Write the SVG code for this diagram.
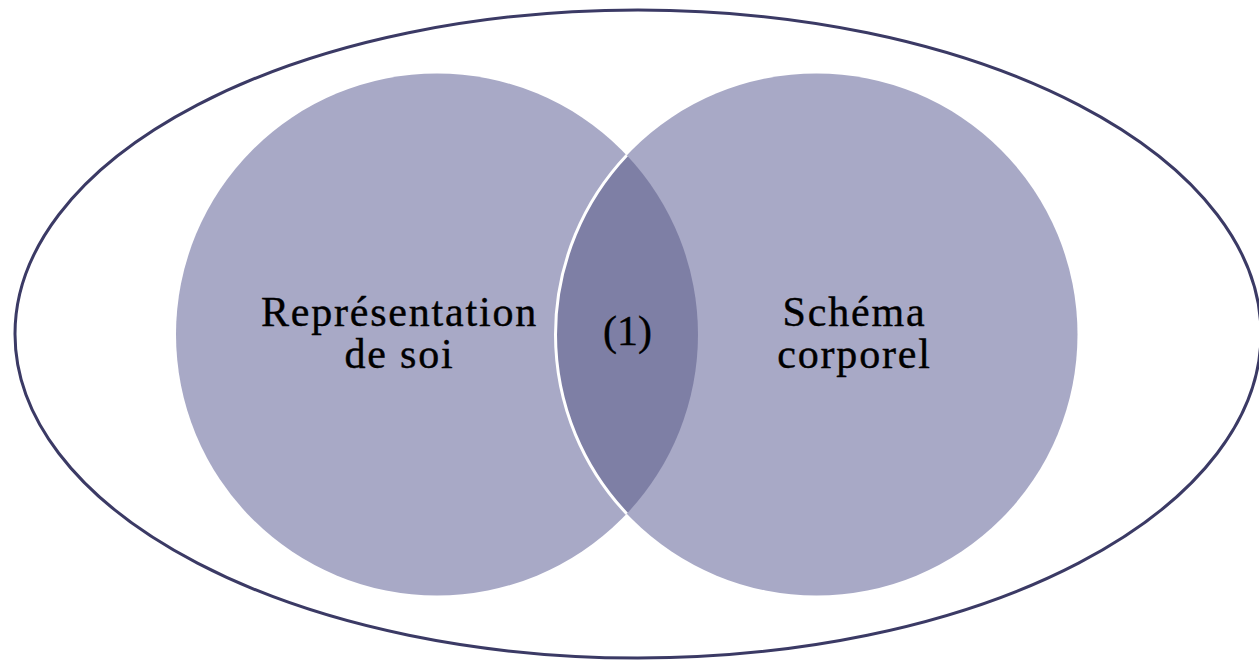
<svg xmlns="http://www.w3.org/2000/svg" width="1259" height="660" viewBox="0 0 1259 660">
  <style>
    .lbl { font-family: "Liberation Serif", "Times New Roman", serif; font-size: 42px; fill: #000000; stroke: #000000; stroke-width: 0.4; text-anchor: middle; }
    .circ { fill: #A8A9C6; }
  </style>
  <rect x="0" y="0" width="1259" height="660" fill="#FFFFFF"/>
  <g id="outer">
    <ellipse cx="638" cy="334" rx="623" ry="324" fill="none" stroke="#3B3A65" stroke-width="3"/>
  </g>
  <g id="left-circle">
    <circle class="circ" cx="437" cy="334.5" r="261"/>
  </g>
  <g id="right-circle">
    <circle class="circ" cx="816.5" cy="334.5" r="261"/>
  </g>
  <g id="intersection">
    <path d="M 626.75 155.3 A 261 261 0 0 1 626.75 513.7 A 261 261 0 0 1 626.75 155.3 Z" fill="#7E7FA5"/>
    <path d="M 626.75 155.3 A 261 261 0 0 0 626.75 513.7" fill="none" stroke="#FFFFFF" stroke-width="3"/>
  </g>
  <g id="labels">
    <text class="lbl" x="399.5" y="326" letter-spacing="1.8">Représentation</text>
    <text class="lbl" x="399.5" y="368" letter-spacing="1.8">de soi</text>
    <text class="lbl" x="627.5" y="345" font-size="44">(1)</text>
    <text class="lbl" x="854.5" y="326" letter-spacing="1.8">Schéma</text>
    <text class="lbl" x="854.5" y="368" letter-spacing="1.8">corporel</text>
  </g>
</svg>
